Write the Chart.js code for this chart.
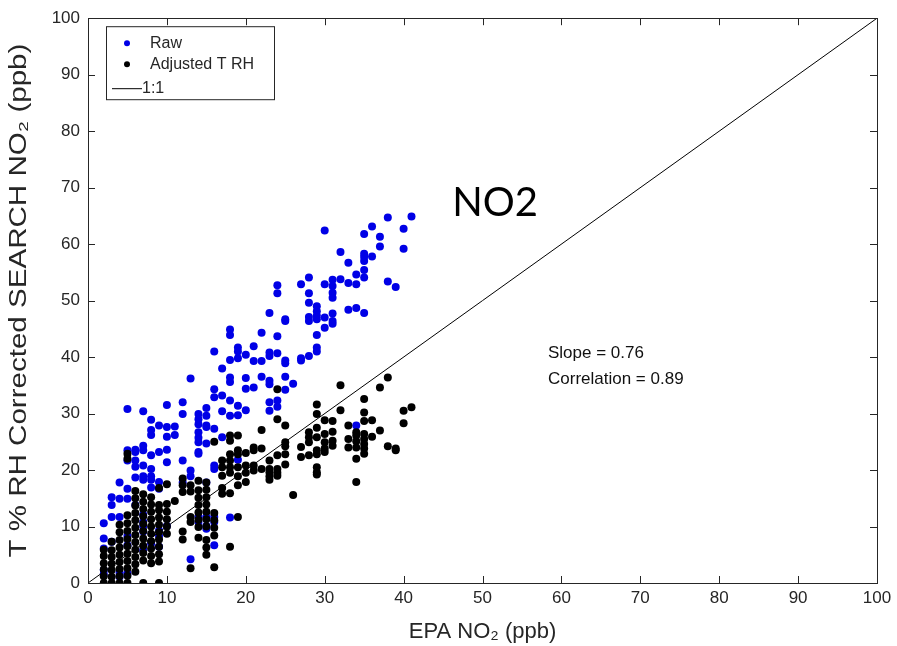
<!DOCTYPE html>
<html>
<head>
<meta charset="utf-8">
<script src="https://cdn.jsdelivr.net/npm/chart.js@4.4.1/dist/chart.umd.min.js"></script>
<style>
  html, body { margin: 0; padding: 0; background: #fff; }
  #wrap { width: 897px; height: 646px; }
</style>
</head>
<body>
<div id="wrap"><canvas id="chart" width="897" height="646"></canvas></div>
<script>
// Values, grouped by EPA NO2 (integer ppb) -> sensor values
const rawCols = [
  [2, [1.6, 2.3, 6.1, 7.9, 10.6]],
  [3, [7.3, 11.7, 13.8, 15.2]],
  [4, [1.1, 1.8, 11.7, 14.9, 17.8]],
  [5, [1.7, 6.7, 8.3, 14.9, 16.7, 21.7, 23.5, 30.8]],
  [6, [13.8, 18.7, 20.6, 21.7, 23.2, 23.6]],
  [7, [5.8, 9.1, 10.1, 10.8, 12.1, 18.3, 18.9, 20.8, 23.5, 24.3, 30.4]],
  [8, [7.0, 16.9, 18.3, 18.9, 20.2, 22.6, 26.2, 27.1, 28.9]],
  [9, [6.4, 8.3, 9.3, 16.7, 17.9, 23.2, 27.9]],
  [10, [10.1, 21.4, 23.6, 25.9, 27.6, 31.5]],
  [11, [26.2, 27.7]],
  [12, [17.8, 21.7, 29.9, 32.0]],
  [13, [4.2, 18.9, 19.9, 36.2]],
  [14, [10.8, 11.7, 22.9, 23.2, 24.9, 25.7, 26.7, 28.1, 29.0, 29.9]],
  [15, [9.6, 10.1, 11.7, 17.8, 24.7, 27.6, 27.9, 29.6, 31.0]],
  [16, [6.7, 10.8, 11.7, 20.2, 20.8, 27.3, 32.9, 34.3, 41.0]],
  [17, [25.8, 30.4, 33.2, 38.0]],
  [18, [11.6, 29.6, 32.3, 35.6, 36.4, 39.5, 43.9, 44.9]],
  [19, [21.8, 29.7, 31.4, 39.8, 41.0, 41.7]],
  [20, [30.6, 34.4, 36.3, 40.4]],
  [21, [34.6, 39.3, 41.9]],
  [22, [36.5, 39.3, 44.3]],
  [23, [30.5, 32.0, 35.2, 35.8, 40.2, 40.8, 47.8]],
  [24, [31.2, 32.3, 40.7, 43.7, 51.3, 52.7]],
  [25, [34.2, 36.5, 38.9, 39.4, 46.4, 46.7]],
  [26, [35.3]],
  [27, [39.4, 39.8, 52.9]],
  [28, [40.2, 46.4, 47.1, 49.6, 51.3, 54.1]],
  [29, [41.0, 41.7, 43.9, 46.7, 47.3, 48.1, 49.0]],
  [30, [45.2, 47.0, 52.9, 62.4]],
  [31, [45.9, 46.4, 47.7, 50.5, 51.4, 52.6, 53.7]],
  [32, [53.8, 58.6]],
  [33, [48.4, 53.1, 56.7]],
  [34, [27.9, 48.7, 52.9, 54.6]],
  [35, [47.8, 54.1, 55.4, 57.0, 57.7, 58.3, 61.8]],
  [36, [57.8, 63.1]],
  [37, [59.6, 61.3]],
  [38, [53.4, 64.7]],
  [39, [52.4]],
  [40, [59.2, 62.7]],
  [41, [64.9]]
];

const adjCols = [
  [2, [0, 1.2, 2.4, 3.5, 4.8, 5.9]],
  [3, [0, 1.1, 2.3, 3.4, 4.6, 5.8, 7.3]],
  [4, [0, 1.2, 2.5, 3.7, 5.0, 6.3, 7.6, 9.0, 10.3]],
  [5, [0, 1.3, 2.6, 3.9, 5.2, 6.5, 7.8, 9.2, 10.6, 12.0, 22.0, 22.9]],
  [6, [2.0, 3.3, 4.6, 5.9, 7.2, 8.5, 9.8, 11.1, 12.4, 13.7, 15.0, 16.3]],
  [7, [0, 4.0, 5.3, 6.6, 7.9, 9.2, 10.5, 11.8, 13.1, 14.4, 15.7]],
  [8, [3.5, 4.8, 6.1, 7.4, 8.7, 10.0, 11.3, 12.6, 13.9, 15.2]],
  [9, [0, 3.8, 5.1, 6.4, 7.7, 9.0, 10.3, 11.6, 12.9, 13.8, 16.8]],
  [10, [8.7, 10.0, 11.3, 12.6, 14.0, 17.5]],
  [11, [14.5]],
  [12, [7.7, 9.1, 16.1, 17.3, 18.5]],
  [13, [2.6, 10.8, 11.7, 16.2, 17.3]],
  [14, [8.0, 9.9, 11.2, 12.5, 13.8, 15.1, 16.4, 18.1]],
  [15, [5.0, 6.3, 7.6, 10.0, 11.3, 12.6, 13.9, 15.2, 16.5, 17.8]],
  [16, [2.8, 8.4, 9.8, 11.1, 12.4, 25.0]],
  [17, [15.8, 16.8, 19.0, 20.5, 21.7]],
  [18, [6.4, 15.9, 19.5, 20.5, 21.7, 22.8, 25.2, 26.1]],
  [19, [11.7, 17.3, 18.9, 20.5, 22.8, 23.5, 26.1]],
  [20, [17.9, 19.5, 20.8, 23.0]],
  [21, [19.9, 20.8, 23.5, 24.0]],
  [22, [20.2, 23.8, 27.1]],
  [23, [18.3, 18.9, 19.6, 20.2, 21.7]],
  [24, [19.0, 19.5, 20.2, 22.6, 29.0, 34.3]],
  [25, [21.0, 22.8, 24.2, 24.9, 27.9]],
  [26, [15.6]],
  [27, [22.3, 24.1]],
  [28, [22.6, 24.9, 25.8, 26.7]],
  [29, [19.2, 19.6, 20.5, 22.8, 23.5, 25.8, 27.5, 29.9, 31.6]],
  [30, [23.2, 23.8, 24.9, 26.4, 28.8]],
  [31, [24.3, 25.2, 26.8, 28.7]],
  [32, [30.6, 35.0]],
  [33, [24.0, 25.5, 27.9]],
  [34, [17.9, 22.0, 24.0, 25.1, 26.1, 26.7]],
  [35, [22.9, 23.8, 24.6, 25.5, 26.4, 28.7, 30.2, 32.6]],
  [36, [25.9, 28.8]],
  [37, [27.0, 34.6]],
  [38, [24.2, 36.4]],
  [39, [23.5, 23.8]],
  [40, [28.3, 30.5]],
  [41, [31.1]]
];

const oneToOne = [0, 100];
const xTicks = [0, 10, 20, 30, 40, 50, 60, 70, 80, 90, 100];
const yTicks = [0, 10, 20, 30, 40, 50, 60, 70, 80, 90, 100];
const seriesNames = ['Raw', 'Adjusted T RH', '1:1'];
const statLines = ['Slope = 0.76', 'Correlation = 0.89'];
const yTitle = 'T % RH Corrected SEARCH NO₂ (ppb)';

const AXIS = '#262626';
const FONT = "'Liberation Sans', Arial, Helvetica, sans-serif";

function toPoints(cols) {
  const pts = [];
  cols.forEach(([x, ys]) => ys.forEach(y => pts.push({ x: x, y: y })));
  return pts;
}

// box, inward ticks, legend, y title and text notes
const framePlugin = {
  id: 'frame',
  afterDraw(chart) {
    const { ctx, chartArea: a, scales: { x, y } } = chart;
    ctx.save();
    ctx.strokeStyle = AXIS;
    ctx.lineWidth = 1;
    ctx.strokeRect(Math.round(a.left) + 0.5, Math.round(a.top) + 0.5, Math.round(a.width), Math.round(a.height));
    ctx.beginPath();
    xTicks.forEach(v => {
      const px = Math.round(x.getPixelForValue(v)) + 0.5;
      ctx.moveTo(px, a.bottom); ctx.lineTo(px, a.bottom - 7);
      ctx.moveTo(px, a.top); ctx.lineTo(px, a.top + 7);
    });
    yTicks.forEach(v => {
      const py = Math.round(y.getPixelForValue(v)) + 0.5;
      ctx.moveTo(a.left, py); ctx.lineTo(a.left + 7, py);
      ctx.moveTo(a.right, py); ctx.lineTo(a.right - 7, py);
    });
    ctx.stroke();

    // y axis title, stretched along its length like the source figure
    ctx.save();
    ctx.font = '23px ' + FONT;
    ctx.fillStyle = AXIS;
    ctx.textAlign = 'center';
    ctx.textBaseline = 'middle';
    const span = (y.getPixelForValue(0) - y.getPixelForValue(100)) * 0.91;
    const sx = span / ctx.measureText(yTitle).width;
    ctx.translate(20, (a.top + a.bottom) / 2);
    ctx.rotate(-Math.PI / 2);
    ctx.scale(sx, 1);
    ctx.fillText(yTitle, 0, 0);
    ctx.restore();

    // legend box
    const lx = a.left + 18, ly = a.top + 8, lw = 168, lh = 73;
    ctx.fillStyle = '#fff';
    ctx.fillRect(lx, ly, lw, lh);
    ctx.strokeStyle = AXIS;
    ctx.strokeRect(lx + 0.5, ly + 0.5, lw, lh);
    const ds = chart.data.datasets;
    const rows = [ly + 17, ly + 38, ly + 62];
    ctx.font = '16px ' + FONT;
    ctx.textBaseline = 'middle';
    ctx.textAlign = 'left';
    ds.forEach((d, i) => {
      const ry = rows[i];
      if (d.type === 'line') {
        ctx.strokeStyle = d.borderColor;
        ctx.beginPath();
        ctx.moveTo(lx + 6, ry + 0.5); ctx.lineTo(lx + 36, ry + 0.5);
        ctx.stroke();
        ctx.fillStyle = AXIS;
        ctx.fillText(d.label, lx + 36, ry);
      } else {
        ctx.fillStyle = d.backgroundColor;
        ctx.beginPath();
        ctx.arc(lx + 21, ry, 3, 0, Math.PI * 2);
        ctx.fill();
        ctx.fillStyle = AXIS;
        ctx.fillText(d.label, lx + 44, ry);
      }
    });

    // stats text
    ctx.fillStyle = '#111';
    ctx.font = '17px ' + FONT;
    statLines.forEach((t, i) => {
      ctx.fillText(t, x.getPixelForValue(58.3), y.getPixelForValue(40.6) + i * 26);
    });

    // big NO2 label
    ctx.font = "40px Lato, 'Open Sans', sans-serif";
    ctx.textAlign = 'center';
    ctx.fillStyle = '#000';
    ctx.fillText('NO2', x.getPixelForValue(51.6), y.getPixelForValue(67.3));
    ctx.restore();
  }
};

new Chart(document.getElementById('chart'), {
  type: 'scatter',
  data: {
    datasets: [
      {
        label: seriesNames[0],
        data: toPoints(rawCols),
        backgroundColor: '#0000e6',
        borderColor: '#0000e6',
        borderWidth: 0,
        pointRadius: 4,
        order: 2
      },
      {
        label: seriesNames[1],
        data: toPoints(adjCols),
        backgroundColor: '#000',
        borderColor: '#000',
        borderWidth: 0,
        pointRadius: 4,
        order: 1
      },
      {
        label: seriesNames[2],
        type: 'line',
        data: oneToOne.map(v => ({ x: v, y: v })),
        borderColor: '#000',
        borderWidth: 1,
        pointRadius: 0,
        order: 0
      }
    ]
  },
  options: {
    responsive: false,
    animation: false,
    layout: { padding: { top: 16, right: 20, left: 0, bottom: 0 } },
    plugins: { legend: { display: false }, tooltip: { enabled: false } },
    scales: {
      x: {
        type: 'linear', min: 0, max: 100,
        afterBuildTicks: s => { s.ticks = xTicks.map(v => ({ value: v })); },
        afterFit: s => { s.height = 63; },
        grid: { display: false, drawTicks: false },
        border: { display: false },
        ticks: { color: AXIS, padding: 5, maxRotation: 0, font: { family: FONT, size: 17 } },
        title: { display: true, text: 'EPA NO₂ (ppb)', color: AXIS, padding: { top: 0, bottom: 1 }, font: { family: FONT, size: 22 } }
      },
      y: {
        type: 'linear', min: 0, max: 100,
        afterBuildTicks: s => { s.ticks = yTicks.map(v => ({ value: v })); },
        afterFit: s => { s.width = 88; },
        grid: { display: false, drawTicks: false },
        border: { display: false },
        ticks: { color: AXIS, padding: 8, font: { family: FONT, size: 17 } },
        title: { display: false }
      }
    }
  },
  plugins: [framePlugin]
});
</script>
</body>
</html>
